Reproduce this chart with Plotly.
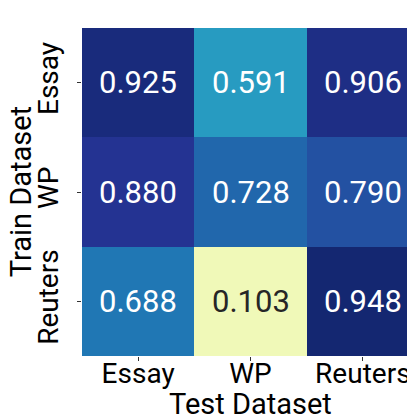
import plotly.graph_objects as go
import plotly.express as px

# %%
test_sets = ['Essay', 'WP', 'Reuters']
train_sets = ['Essay', 'WP', 'Reuters']
scores = [
    [0.925, 0.591, 0.906],
    [0.880, 0.728, 0.790],
    [0.688, 0.103, 0.948],
]

# %%
fig = go.Figure(go.Heatmap(
    z=scores, x=test_sets, y=train_sets,
    zmin=0, zmax=1,
    colorscale=px.colors.sequential.YlGnBu,
    showscale=False,
))

# seaborn-style annot: white text on dark cells, dark on light ones
for i, row in enumerate(scores):
    for j, v in enumerate(row):
        fig.add_annotation(
            x=test_sets[j], y=train_sets[i], text=f'{v:.3f}', showarrow=False,
            font=dict(size=31, color='white' if v > 0.3 else '#262626'),
        )

# axis titles as paper annotations so they sit as tight as in the seaborn original
fig.add_annotation(text='Test Dataset', xref='paper', yref='paper', x=0.5, y=-0.146,
                   xanchor='center', yanchor='middle', showarrow=False, font=dict(size=29))
fig.add_annotation(text='Train Dataset', xref='paper', yref='paper', x=-0.18, y=0.5,
                   xanchor='center', yanchor='middle', textangle=-90, showarrow=False,
                   font=dict(size=29))

fig.update_layout(
    width=415, height=415,
    margin=dict(l=74, r=4, t=20, b=67),
    font=dict(family='Roboto', size=28, color='black'),
    plot_bgcolor='white', paper_bgcolor='white',
)
fig.update_xaxes(ticks='outside', ticklen=4, tickcolor='#333', automargin=False,
                 ticklabelstandoff=-12, showgrid=False, zeroline=False)
fig.update_yaxes(ticks='outside', ticklen=4, tickcolor='#333', tickangle=-90,
                 ticklabelstandoff=8, autorange='reversed', automargin=False,
                 showgrid=False, zeroline=False)

fig.write_html('out.html')
